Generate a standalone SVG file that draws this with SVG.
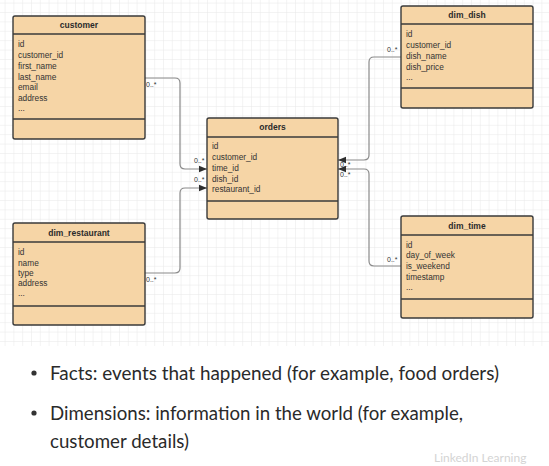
<svg xmlns="http://www.w3.org/2000/svg" width="549" height="466" viewBox="0 0 549 466">
<defs>
<pattern id="minor" patternUnits="userSpaceOnUse" x="4.6" y="2.6" width="8.8" height="9.4">
<path d="M0,0 V9.4 M0,0 H8.8" fill="none" stroke="#e8e8e8" stroke-width="1"/>
</pattern>
<marker id="arr" markerUnits="userSpaceOnUse" markerWidth="8" markerHeight="8" viewBox="0 0 8 8" refX="8" refY="4" orient="auto">
<path d="M0,0.8 L8,4 L0,7.2 Z" fill="#2e2e2e"/>
</marker>
<style>
.box{fill:#f6d5a6;stroke:#3a3a3a;stroke-width:1.4}
.div{stroke:#3a3a3a;stroke-width:1.4}
.title{font-family:"Liberation Sans",Arial,sans-serif;font-size:8.5px;font-weight:bold;fill:#2b2b2b;text-anchor:middle}
.attr{font-family:"Liberation Sans",Arial,sans-serif;font-size:8.3px;fill:#333}
.conn{fill:none;stroke:#8a8a8a;stroke-width:1.2}
.lbl{font-family:"Liberation Sans",Arial,sans-serif;font-size:7px;fill:#333}
.bul{font-family:Lato,"Open Sans",sans-serif;font-size:19.5px;fill:#2a2a2a}
</style>
</defs>
<rect width="549" height="466" fill="#ffffff"/>
<rect x="0" y="0" width="549" height="346" fill="url(#minor)"/>

<g id="connectors">
<path class="conn" d="M145,78 H175 Q180,78 180,83 V164 Q180,169 185,169 H207" marker-end="url(#arr)"/>
<path class="conn" d="M145,273 H175 Q180,273 180,268 V193 Q180,188 185,188 H207" marker-end="url(#arr)"/>
<path class="conn" d="M401,57 H374 Q369,57 369,62 V155 Q369,160 364,160 H338" marker-end="url(#arr)"/>
<path class="conn" d="M401,266 H374 Q369,266 369,261 V174 Q369,169 364,169 H338" marker-end="url(#arr)"/>
<text class="lbl" x="146" y="86.5">0..*</text>
<text class="lbl" x="194" y="163">0..*</text>
<text class="lbl" x="146" y="282">0..*</text>
<text class="lbl" x="194" y="182">0..*</text>
<text class="lbl" x="387" y="52">0..*</text>
<text class="lbl" x="387" y="262">0..*</text>
<text class="lbl" x="340" y="167">0..*</text>
<text class="lbl" x="340" y="177">0..*</text>
</g>

<g id="customer">
<rect class="box" x="13" y="16" width="132" height="123" rx="2"/>
<line class="div" x1="13" y1="34" x2="145" y2="34"/>
<line class="div" x1="13" y1="119" x2="145" y2="119"/>
<text class="title" x="79" y="28">customer</text>
<text class="attr" x="18" y="47">id</text>
<text class="attr" x="18" y="58">customer_id</text>
<text class="attr" x="18" y="69">first_name</text>
<text class="attr" x="18" y="79.5">last_name</text>
<text class="attr" x="18" y="90">email</text>
<text class="attr" x="18" y="101">address</text>
<text class="attr" x="18" y="111">...</text>
</g>

<g id="orders">
<rect class="box" x="207" y="118" width="131" height="101" rx="2"/>
<line class="div" x1="207" y1="137" x2="338" y2="137"/>
<line class="div" x1="207" y1="201" x2="338" y2="201"/>
<text class="title" x="272.5" y="130">orders</text>
<text class="attr" x="212" y="149">id</text>
<text class="attr" x="212" y="160.3">customer_id</text>
<text class="attr" x="212" y="171">time_id</text>
<text class="attr" x="212" y="181.7">dish_id</text>
<text class="attr" x="212" y="192.3">restaurant_id</text>
</g>

<g id="dim_dish">
<rect class="box" x="401" y="6" width="132" height="102" rx="2"/>
<line class="div" x1="401" y1="24" x2="533" y2="24"/>
<line class="div" x1="401" y1="88" x2="533" y2="88"/>
<text class="title" x="467" y="17.5">dim_dish</text>
<text class="attr" x="406" y="37">id</text>
<text class="attr" x="406" y="48">customer_id</text>
<text class="attr" x="406" y="59">dish_name</text>
<text class="attr" x="406" y="69.5">dish_price</text>
<text class="attr" x="406" y="79.5">...</text>
</g>

<g id="dim_time">
<rect class="box" x="401" y="216" width="132" height="102" rx="2"/>
<line class="div" x1="401" y1="235" x2="533" y2="235"/>
<line class="div" x1="401" y1="299" x2="533" y2="299"/>
<text class="title" x="467" y="228.5">dim_time</text>
<text class="attr" x="406" y="247.5">id</text>
<text class="attr" x="406" y="258">day_of_week</text>
<text class="attr" x="406" y="269">is_weekend</text>
<text class="attr" x="406" y="279.7">timestamp</text>
<text class="attr" x="406" y="290">...</text>
</g>

<g id="dim_restaurant">
<rect class="box" x="13" y="223" width="132" height="102" rx="2"/>
<line class="div" x1="13" y1="242" x2="145" y2="242"/>
<line class="div" x1="13" y1="306" x2="145" y2="306"/>
<text class="title" x="79" y="235.5">dim_restaurant</text>
<text class="attr" x="18" y="255">id</text>
<text class="attr" x="18" y="265.5">name</text>
<text class="attr" x="18" y="275.5">type</text>
<text class="attr" x="18" y="286">address</text>
<text class="attr" x="18" y="296">...</text>
</g>

<g id="bullets">
<circle cx="34" cy="373" r="2.6" fill="#333"/>
<text class="bul" x="50" y="380" textLength="449" lengthAdjust="spacingAndGlyphs">Facts: events that happened (for example, food orders)</text>
<circle cx="34" cy="413" r="2.6" fill="#333"/>
<text class="bul" x="50" y="420" textLength="413" lengthAdjust="spacingAndGlyphs">Dimensions: information in the world (for example,</text>
<text class="bul" x="50" y="448" textLength="139" lengthAdjust="spacingAndGlyphs">customer details)</text>
</g>
<text x="434" y="462" font-family="Lato,sans-serif" font-size="12px" fill="#d4d4d4">LinkedIn Learning</text>
</svg>
